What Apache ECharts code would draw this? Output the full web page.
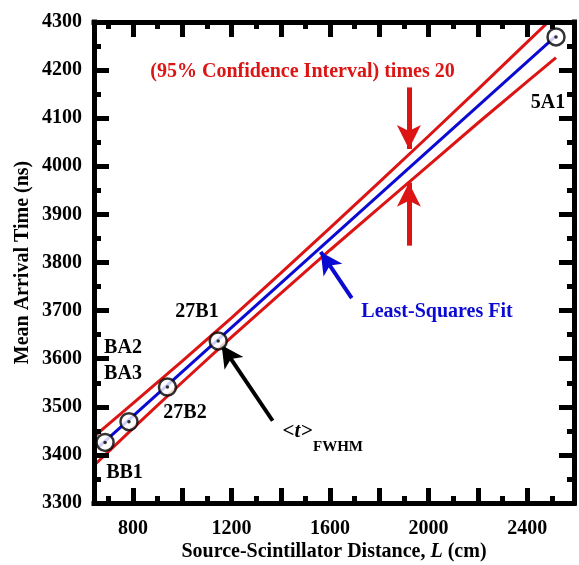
<!DOCTYPE html>
<html>
<head>
<meta charset="utf-8">
<script src="https://cdn.jsdelivr.net/npm/echarts@6/dist/echarts.min.js"></script>
<style>
  html, body { margin: 0; padding: 0; background: #fff; }
  #chart { width: 579px; height: 565px; }
</style>
</head>
<body>
<div id="chart"></div>
<script>
// Measured detector positions: source-scintillator distance (cm) and mean arrival time (ns)
const detectorNames = ['BB1', 'BA2/BA3', '27B2', '27B1', '5A1'];
const distances = [687, 784, 940, 1146, 2517];
const arrivalTimes = [3426, 3469, 3541, 3637, 4269];

// Least-squares fit line (end points)
const fitX = [660, 2517];
const fitY = [3416, 4271];

// 95% confidence band (scaled x20), upper and lower edges
const bandUpperX = [644, 800, 1000, 1200, 1400, 1600, 1800, 2000, 2200, 2400, 2520];
const bandUpper  = [3439, 3507, 3595, 3685, 3778, 3872, 3967, 4063, 4160, 4258, 4317];
const bandLowerX = [644, 800, 1000, 1200, 1400, 1600, 1800, 2000, 2200, 2400, 2517];
const bandLower  = [3379, 3455, 3551, 3645, 3736, 3826, 3914, 4002, 4090, 4176, 4226];

// Axis ticks and labels
const xMajorTicks = [800, 1000, 1200, 1400, 1600, 1800, 2000, 2200, 2400];
const xMinorTicks = [700, 900, 1100, 1300, 1500, 1700, 1900, 2100, 2300, 2500];
const xTickLabels = [800, 1200, 1600, 2000, 2400];
const yTickLabels = [3300, 3400, 3500, 3600, 3700, 3800, 3900, 4000, 4100, 4200, 4300];

const SERIF = "'Liberation Serif', 'Times New Roman', 'DejaVu Serif', serif";
const RED = '#dc1414';
const BLUE = '#0a0ad2';

const zip = (xs, ys) => xs.map((x, i) => [x, ys[i]]);
const plain = v => String(v);

const frameLine = { show: true, lineStyle: { color: '#000', width: 5, cap: 'square' } };

function xAxisDef(position, ticks, len, withLine, withLabels) {
  return {
    type: 'value', position: position, min: 642, max: 2590, z: 5,
    axisLine: withLine ? frameLine : { show: false },
    axisTick: { show: true, inside: true, length: len, customValues: ticks,
                lineStyle: { color: '#000', width: 5 } },
    axisLabel: withLabels ? {
      show: true, customValues: xTickLabels, margin: 16, color: '#000',
      fontSize: 20, fontWeight: 'bold', fontFamily: SERIF, formatter: plain
    } : { show: false },
    splitLine: { show: false }
  };
}

function yAxisDef(position, withLabels) {
  return {
    type: 'value', position: position, min: 3300, max: 4300, interval: 100, z: 5,
    axisLine: frameLine,
    axisTick: { show: true, inside: true, length: 15, lineStyle: { color: '#000', width: 5 } },
    minorTick: { show: true, splitNumber: 2, length: 7, lineStyle: { color: '#000', width: 5 } },
    axisLabel: withLabels ? {
      show: true, margin: 12, color: '#000',
      fontSize: 20, fontWeight: 'bold', fontFamily: SERIF,
      customValues: yTickLabels, formatter: plain
    } : { show: false },
    splitLine: { show: false },
    minorSplitLine: { show: false }
  };
}

const xBottom = xAxisDef('bottom', xMajorTicks, 15, true, true);
xBottom.name = 'Source-Scintillator Distance, {i|L} (cm)';
xBottom.nameLocation = 'middle';
xBottom.nameGap = 39;
xBottom.nameMoveOverlap = false;
xBottom.nameTextStyle = {
  color: '#000', fontSize: 20, fontWeight: 'bold', fontFamily: SERIF,
  rich: { i: { fontStyle: 'italic', fontWeight: 'bold', fontSize: 20, fontFamily: SERIF, color: '#000' } }
};

const yLeft = yAxisDef('left', true);
yLeft.name = 'Mean Arrival Time (ns)';
yLeft.nameLocation = 'middle';
yLeft.nameGap = 61;
yLeft.nameMoveOverlap = false;
yLeft.nameTextStyle = { color: '#000', fontSize: 20, fontWeight: 'bold', fontFamily: SERIF };

const arrowLine = (color, width, pairs, size) => ({
  silent: true, animation: false,
  symbol: ['none', 'arrow'], symbolSize: size,
  label: { show: false },
  lineStyle: { color: color, width: width, type: 'solid' },
  data: pairs.map(p => [{ coord: p[0] }, { coord: p[1] }])
});

function textItem(text, x, y, color, size, style) {
  return {
    type: 'text', x: x, y: y, z: 20, silent: true,
    style: {
      text: text, fill: color,
      font: (style || 'normal') + ' bold ' + size + 'px ' + SERIF,
      align: 'center', verticalAlign: 'middle',
      textAlign: 'center', textVerticalAlign: 'middle'
    }
  };
}

const chart = echarts.init(document.getElementById('chart'), null, { renderer: 'canvas' });

chart.setOption({
  animation: false,
  backgroundColor: '#fff',
  grid: { left: 94, right: 5, top: 22, bottom: 62, containLabel: false, outerBoundsMode: 'none' },
  xAxis: [
    xBottom,
    xAxisDef('bottom', xMinorTicks, 7, false, false),
    xAxisDef('top', xMajorTicks, 15, true, false),
    xAxisDef('top', xMinorTicks, 7, false, false)
  ],
  yAxis: [yLeft, yAxisDef('right', false)],
  series: [
    {
      name: 'Upper 95% CI x20', type: 'line', data: zip(bandUpperX, bandUpper),
      showSymbol: false, symbol: 'none', clip: true, z: 2,
      lineStyle: { color: RED, width: 3 },
      markLine: arrowLine(RED, 5, [
        [[1920, 4164], [1920, 4036]],
        [[1920, 3835], [1920, 3966]]
      ], [18, 24])
    },
    {
      name: 'Lower 95% CI x20', type: 'line', data: zip(bandLowerX, bandLower),
      showSymbol: false, symbol: 'none', clip: true, z: 2,
      lineStyle: { color: RED, width: 3 }
    },
    {
      name: 'Least-Squares Fit', type: 'line', data: zip(fitX, fitY),
      showSymbol: false, symbol: 'none', clip: true, z: 3,
      lineStyle: { color: BLUE, width: 3 },
      markLine: arrowLine(BLUE, 4, [[[1688, 3726], [1562, 3822]]], [17, 22])
    },
    {
      name: 'Detectors', type: 'scatter', data: zip(distances, arrivalTimes),
      symbol: 'circle', symbolSize: 17, z: 6,
      itemStyle: { color: '#fff', borderColor: '#000', borderWidth: 2.5 },
      markLine: arrowLine('#000', 4, [[[1367, 3471], [1160, 3628]]], [17, 22])
    },
    {
      name: 'Detector centres', type: 'scatter', data: zip(distances, arrivalTimes),
      symbol: 'circle', symbolSize: 3.5, z: 7,
      itemStyle: { color: '#000' }
    }
  ],
  graphic: [
    textItem('(95% Confidence Interval) times 20', 302.5, 72, RED, 20),
    textItem('5A1', 548, 103, '#000', 20),
    textItem('Least-Squares Fit', 437, 312, BLUE, 20),
    textItem('27B1', 197, 312, '#000', 20),
    textItem('BA2', 123, 348, '#000', 20),
    textItem('BA3', 123, 374, '#000', 20),
    textItem('27B2', 185, 413, '#000', 20),
    textItem('BB1', 124.5, 473, '#000', 20),
    textItem('<t>', 297.5, 432, '#000', 21, 'italic'),
    textItem('FWHM', 338, 447, '#000', 15)
  ]
});
</script>
</body>
</html>
